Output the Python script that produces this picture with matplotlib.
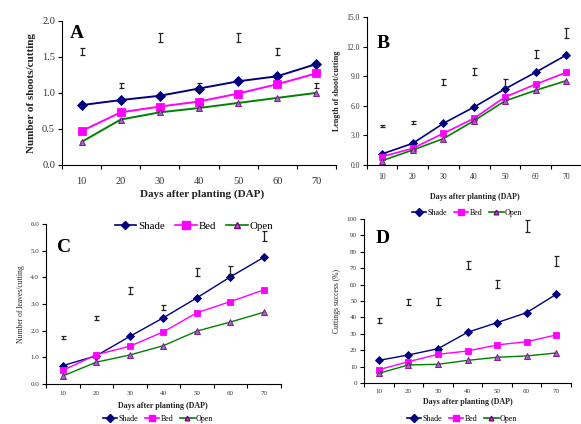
import numpy as np
import matplotlib
matplotlib.use("Agg")
import matplotlib.pyplot as plt
from matplotlib.lines import Line2D

plt.rcParams['font.family'] = ['Liberation Serif', 'DejaVu Serif']

days = ["10", "20", "30", "40", "50", "60", "70"]
series_names = ["Shade", "Bed", "Open"]

# Panel A: number of shoots/cutting
a_shade = [0.83, 0.90, 0.96, 1.06, 1.16, 1.23, 1.40]
a_bed = [0.47, 0.73, 0.81, 0.88, 0.99, 1.12, 1.27]
a_open = [0.32, 0.63, 0.73, 0.79, 0.86, 0.93, 1.00]
a_lsd_y = [1.57, 1.10, 1.77, 1.09, 1.77, 1.57, 1.10]
a_lsd_e = [0.05, 0.03, 0.06, 0.05, 0.06, 0.05, 0.03]

# Panel B: length of shoot/cutting
b_shade = [1.12, 2.2, 4.23, 5.89, 7.72, 9.41, 11.17]
b_bed = [0.85, 1.69, 3.22, 4.74, 6.9, 8.19, 9.41]
b_open = [0.44, 1.52, 2.68, 4.5, 6.5, 7.58, 8.56]
b_lsd_y = [3.96, 4.33, 8.46, 9.51, 8.3, 11.24, 13.4]
b_lsd_e = [0.15, 0.15, 0.3, 0.35, 0.4, 0.4, 0.5]

# Panel C: number of leaves/cutting
c_shade = [0.68, 1.05, 1.78, 2.48, 3.23, 4.02, 4.76]
c_bed = [0.50, 1.09, 1.41, 1.95, 2.67, 3.09, 3.53]
c_open = [0.29, 0.81, 1.08, 1.43, 1.98, 2.32, 2.69]
c_lsd_y = [1.75, 2.47, 3.51, 2.86, 4.19, 4.28, 5.56]
c_lsd_e = [0.05, 0.07, 0.12, 0.10, 0.15, 0.15, 0.2]

# Panel D: cuttings success (%)
d_shade = [13.8, 17.1, 20.9, 30.9, 36.8, 42.9, 54.1]
d_bed = [8.1, 13.0, 17.5, 19.5, 23.2, 25.2, 29.3]
d_open = [5.9, 11.0, 11.4, 13.8, 15.7, 16.5, 18.3]
d_lsd_y = [38.2, 49.4, 49.8, 72.0, 60.5, 95.7, 74.4]
d_lsd_e = [1.5, 1.8, 2.0, 2.5, 2.5, 3.5, 2.8]

W, H = 581, 424
fig = plt.figure(figsize=(W / 100, H / 100), dpi=100)

def rect(l, t, r, b):
    return [l / W, 1 - b / H, (r - l) / W, (b - t) / H]

styles = [
    dict(color="#000080", marker="D", mfc="#000080", mec="#000080"),
    dict(color="#FF00FF", marker="s", mfc="#FF00FF", mec="#FF00FF"),
    dict(color="#008000", marker="^", mfc="#9966CC", mec="#800080"),
]

def panel(box, data, lsd_y, lsd_e, ylim, yticks, yfmt, ylabel, ylab_bold, ylab_size,
          tick_size, ms, lw, tickpad):
    ax = fig.add_axes(rect(*box))
    x = np.arange(len(days))
    msizes = [ms * 0.8, ms, ms * 0.75]
    for vals, st, m in zip(data, styles, msizes):
        ax.plot(x, vals, color=st["color"], marker=st["marker"], mfc=st["mfc"],
                mec=st["mec"], ms=m, lw=lw, mew=0.6)
    ax.errorbar(x, lsd_y, yerr=lsd_e, fmt="none", ecolor="#222222", elinewidth=0.9,
                capsize=1.8, capthick=0.9)
    ax.set_xlim(-0.5, 6.5)
    ax.set_ylim(*ylim)
    ax.set_yticks(yticks)
    ax.set_yticklabels([yfmt.format(v) for v in yticks])
    ax.set_xticks(np.arange(-0.5, 7, 1))
    ax.set_xticklabels([])
    ax.set_xticks(x, minor=True)
    ax.set_xticklabels(days, minor=True)
    ax.tick_params(axis="x", which="major", length=3, direction="out", width=0.8)
    ax.tick_params(axis="x", which="minor", length=0, pad=tickpad, labelsize=tick_size,
                   labelcolor="#333333")
    ax.tick_params(axis="y", length=3, width=0.8, pad=2, labelsize=tick_size,
                   labelcolor="#333333")
    for s in ["top", "right"]:
        ax.spines[s].set_visible(False)
    for s in ["left", "bottom"]:
        ax.spines[s].set_linewidth(0.8)
    ax.set_ylabel(ylabel, fontsize=ylab_size, fontweight="bold" if ylab_bold else "normal",
                  color="#222222")
    return ax

axA = panel((62, 20.7, 336, 165), [a_shade, a_bed, a_open], a_lsd_y, a_lsd_e,
            (0, 2.0), [0.0, 0.5, 1.0, 1.5, 2.0], "{:.1f}", "Number of shoots/cutting",
            True, 8, 7.5, 6, 1.4, 9)
axB = panel((366.7, 17.3, 581.6, 165), [b_shade, b_bed, b_open], b_lsd_y, b_lsd_e,
            (0, 15), [0, 3, 6, 9, 12, 15], "{:.1f}", "Length of shoot/cutting",
            True, 5.8, 5.5, 5, 1.2, 6)
axC = panel((46, 224.3, 280.6, 383.7), [c_shade, c_bed, c_open], c_lsd_y, c_lsd_e,
            (0, 6), [0, 1, 2, 3, 4, 5, 6], "{:.1f}", "Number of leaves/cutting",
            False, 5.5, 5, 5, 1.0, 5)
axD = panel((364, 219, 571, 383), [d_shade, d_bed, d_open], d_lsd_y, d_lsd_e,
            (0, 100), list(range(0, 101, 10)), "{:d}", "Cuttings success (%)",
            False, 5.5, 5, 5, 1.0, 4)

def ftext(x, y, s, **kw):
    fig.text(x / W, 1 - y / H, s, ha="center", va="center", **kw)

ftext(202, 194, "Days after planting (DAP)", fontsize=8, fontweight="bold", color="#222222")
ftext(475, 197, "Days after planting (DAP)", fontsize=5.8, fontweight="bold", color="#222222")
ftext(163, 406, "Days after planting (DAP)", fontsize=5.8, fontweight="bold", color="#222222")
ftext(468, 402, "Days after planting (DAP)", fontsize=5.8, fontweight="bold", color="#222222")

ftext(77, 34, "A", fontsize=14, fontweight="bold")
ftext(383, 43, "B", fontsize=14, fontweight="bold")
ftext(64, 248, "C", fontsize=14, fontweight="bold")
ftext(383, 239, "D", fontsize=14, fontweight="bold")

def make_handles(ms):
    return [Line2D([], [], color=st["color"], marker=st["marker"], mfc=st["mfc"],
                   mec=st["mec"], ms=m, lw=1.2)
            for st, m in zip(styles, [ms * 0.8, ms, ms * 0.75])]

def flegend(x, y, fs, ms, hl, cs):
    fig.legend(make_handles(ms), series_names, loc="center",
               bbox_to_anchor=(x / W, 1 - y / H), ncol=3, frameon=False,
               fontsize=fs, handlelength=hl, handletextpad=0.2, columnspacing=cs,
               borderpad=0)

flegend(194, 226, 7.8, 5.5, 2.0, 0.9)
flegend(467, 213, 5.8, 4.5, 1.8, 0.8)
flegend(158, 419, 5.8, 4.5, 1.8, 0.8)
flegend(462, 419, 5.8, 4.5, 1.8, 0.8)

fig.savefig("out.png", dpi=100)
